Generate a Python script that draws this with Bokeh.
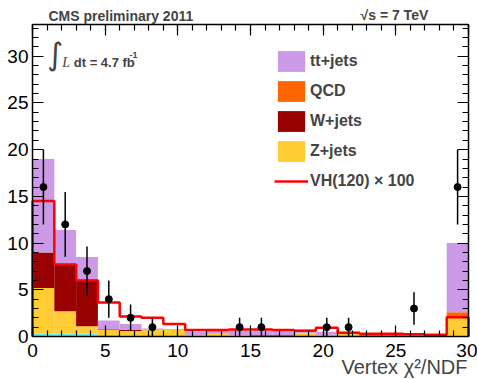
import numpy as np
from bokeh.plotting import figure
from bokeh.models import (Range1d, LinearAxis, SingleIntervalTicker, Legend,
                          LegendItem, Label)
from bokeh.embed import file_html
from bokeh.resources import INLINE

# ---------------- data ----------------
bin_edges = [0.0, 1.5, 3.0, 4.5, 6.0, 7.5, 9.0, 10.5, 12.0, 13.5, 15.0,
             16.5, 18.0, 19.5, 21.0, 22.5, 24.0, 25.5, 27.0, 28.5, 30.0]

other = [0.35, 0.35, 0.30, 0.15, 0.10, 0.05, 0.05, 0.02, 0.02, 0.02,
         0.02, 0.02, 0.02, 0.02, 0.02, 0.02, 0.02, 0.02, 0.02, 0.10]
zjets = [4.85, 2.35, 0.80, 0.60, 0.50, 0.67, 0.67, 0.13, 0.28, 0.13,
         0.08, 0.08, 0.38, 0.13, 0.33, 0.08, 0.08, 0.06, 0.06, 2.10]
wjets = [3.80, 5.00, 5.00, 0.05, 0.10, 0.00, 0.00, 0.05, 0.00, 0.05,
         0.05, 0.05, 0.00, 0.05, 0.05, 0.05, 0.05, 0.02, 0.02, 0.00]
qcd = [0.00, 0.00, 0.00, 0.00, 0.00, 0.00, 0.00, 0.00, 0.00, 0.00,
       0.00, 0.00, 0.00, 0.00, 0.05, 0.00, 0.00, 0.00, 0.00, 0.40]
ttjets = [10.00, 3.70, 2.40, 0.90, 0.65, 0.13, 0.08, 0.30, 0.30, 0.40,
          0.40, 0.40, 0.35, 0.30, 0.05, 0.15, 0.15, 0.15, 0.15, 7.40]
vh_x100 = [14.5, 7.7, 6.0, 3.65, 2.15, 2.0, 1.35, 0.7, 0.7, 0.75,
           0.75, 0.7, 0.62, 0.95, 0.4, 0.3, 0.3, 0.25, 0.2, 2.05]

data_x = [0.75, 2.25, 3.75, 5.25, 6.75, 8.25, 14.25, 15.75, 20.25, 21.75, 26.25, 29.25]
data_y = [16, 12, 7, 4, 2, 1, 1, 1, 1, 1, 3, 16]

x_ticks = [0, 5, 10, 15, 20, 25, 30]
y_ticks = [0, 5, 10, 15, 20, 25, 30]

# axis extents of the drawn box
X_MIN, X_MAX = 0.0, 30.0
Y_MIN, Y_MAX = 0.0, 33.4

# ---------------- figure ----------------
# The frame covers the whole canvas; the box axes are fixed inside it so that
# the texts outside the box are not clipped.
W, H = 477, 379
LEFT, RIGHT, TOP, BOTTOM = 32, 468, 24, 336
xs = (RIGHT - LEFT) / (X_MAX - X_MIN)
ys = (BOTTOM - TOP) / (Y_MAX - Y_MIN)
x_range = Range1d(X_MIN - LEFT / xs, X_MAX + (W - RIGHT) / xs)
y_range = Range1d(Y_MIN - (H - BOTTOM) / ys, Y_MAX + TOP / ys)

FONT = "Liberation Sans"
p = figure(width=W, height=H, x_range=x_range, y_range=y_range,
           output_backend="svg", toolbar_location=None,
           x_axis_location=None, y_axis_location=None,
           min_border_left=0, min_border_right=0, min_border_top=0,
           min_border_bottom=0)
p.xgrid.visible = False
p.ygrid.visible = False
p.outline_line_color = None
p.background_fill_color = "white"
p.border_fill_color = "white"

lo = np.array(bin_edges[:-1])
hi = np.array(bin_edges[1:])
layers = [("other", other, "#66f2ee"), ("Z+jets", zjets, "#ffcc33"),
          ("W+jets", wjets, "#990000"), ("QCD", qcd, "#ff6600"),
          ("tt+jets", ttjets, "#cc99e6")]
bottom = np.zeros(len(lo))
renderers = {}
for name, vals, col in layers:
    top = bottom + np.array(vals)
    r = p.quad(left=lo, right=hi, bottom=bottom, top=top,
               fill_color=col, line_color=None)
    renderers[name] = r
    bottom = top

# signal step line
edges = np.array(bin_edges)
sx = np.repeat(edges, 2)
sy = np.concatenate([[0.0], np.repeat(np.array(vh_x100), 2), [0.0]])
r_vh = p.line(sx, sy, line_color="#ff0000", line_width=2.5)

# data points
dy = np.array(data_y, dtype=float)
err = np.sqrt(dy)
p.segment(x0=data_x, y0=dy - err, x1=data_x, y1=dy + err,
          line_color="black", line_width=1.5)
p.scatter(data_x, data_y, size=7, fill_color="black", line_color="black")

# ---------------- axes ----------------
def make_axis(show_labels, fixed, bounds, standoff):
    ax = LinearAxis(fixed_location=fixed, bounds=bounds)
    ax.ticker = SingleIntervalTicker(interval=5, num_minor_ticks=5)
    ax.major_tick_in = 11
    ax.major_tick_out = 0
    ax.minor_tick_in = 6
    ax.minor_tick_out = 0
    ax.major_tick_line_color = "black"
    ax.minor_tick_line_color = "black"
    ax.major_tick_line_width = 1.2
    ax.minor_tick_line_width = 1.2
    ax.axis_line_color = "black"
    ax.axis_line_width = 1.5
    ax.major_label_standoff = standoff
    if show_labels:
        ax.major_label_text_font = FONT
        ax.major_label_text_font_size = "19px"
        ax.major_label_text_color = "black"
    else:
        ax.major_label_text_font_size = "0px"
        ax.major_label_text_color = None
    return ax

p.add_layout(make_axis(True, Y_MIN, (X_MIN, X_MAX), 7), "below")
p.add_layout(make_axis(True, X_MIN, (Y_MIN, Y_MAX), 4), "left")
p.add_layout(make_axis(False, Y_MAX, (X_MIN, X_MAX), 0), "above")
p.add_layout(make_axis(False, X_MAX, (Y_MIN, Y_MAX), 0), "right")

# ---------------- legend ----------------
legend = Legend(items=[
    LegendItem(label="tt+jets", renderers=[renderers["tt+jets"]]),
    LegendItem(label="QCD", renderers=[renderers["QCD"]]),
    LegendItem(label="W+jets", renderers=[renderers["W+jets"]]),
    LegendItem(label="Z+jets", renderers=[renderers["Z+jets"]]),
    LegendItem(label="VH(120) \u00d7 100", renderers=[r_vh]),
], location=(242 + LEFT, 142 + (H - BOTTOM)), orientation="vertical")
legend.glyph_width = 34
legend.glyph_height = 26
legend.spacing = 4
legend.padding = 0
legend.margin = 0
legend.label_standoff = 2
legend.label_text_font = FONT
legend.label_text_font_style = "bold"
legend.label_text_font_size = "16px"
legend.border_line_color = None
legend.background_fill_alpha = 0
p.add_layout(legend, "center")

# ---------------- texts ----------------
p.add_layout(Label(x=1.10, y=34.32, text="CMS preliminary 2011", text_font=FONT,
                   text_font_style="bold", text_font_size="14px",
                   text_baseline="alphabetic", text_align="left"))
p.add_layout(Label(x=22.57, y=34.43, text="\u221as = 7 TeV", text_font=FONT,
                   text_font_style="bold", text_font_size="14px",
                   text_baseline="alphabetic", text_align="left"))
p.add_layout(Label(x=1.0, y=30.2, text="\u222b", text_font="DejaVu Sans",
                   text_font_size="31px", text_baseline="middle", text_align="left"))
p.add_layout(Label(x=2.04, y=29.35, text="L", text_font="Liberation Serif",
                   text_font_style="italic", text_font_size="14px",
                   text_baseline="alphabetic", text_align="left"))
p.add_layout(Label(x=2.84, y=29.35, text="dt = 4.7 fb", text_font=FONT,
                   text_font_style="bold", text_font_size="13px",
                   text_baseline="alphabetic", text_align="left"))
p.add_layout(Label(x=6.67, y=30.15, text="-1", text_font=FONT,
                   text_font_style="bold", text_font_size="9px",
                   text_baseline="alphabetic", text_align="left"))
p.add_layout(Label(x=29.93, y=-3.25, text="Vertex \u03c7\u00b2/NDF", text_font=FONT,
                   text_font_size="20px", text_baseline="alphabetic",
                   text_align="right"))

open("out.html", "w").write(file_html(p, INLINE))
